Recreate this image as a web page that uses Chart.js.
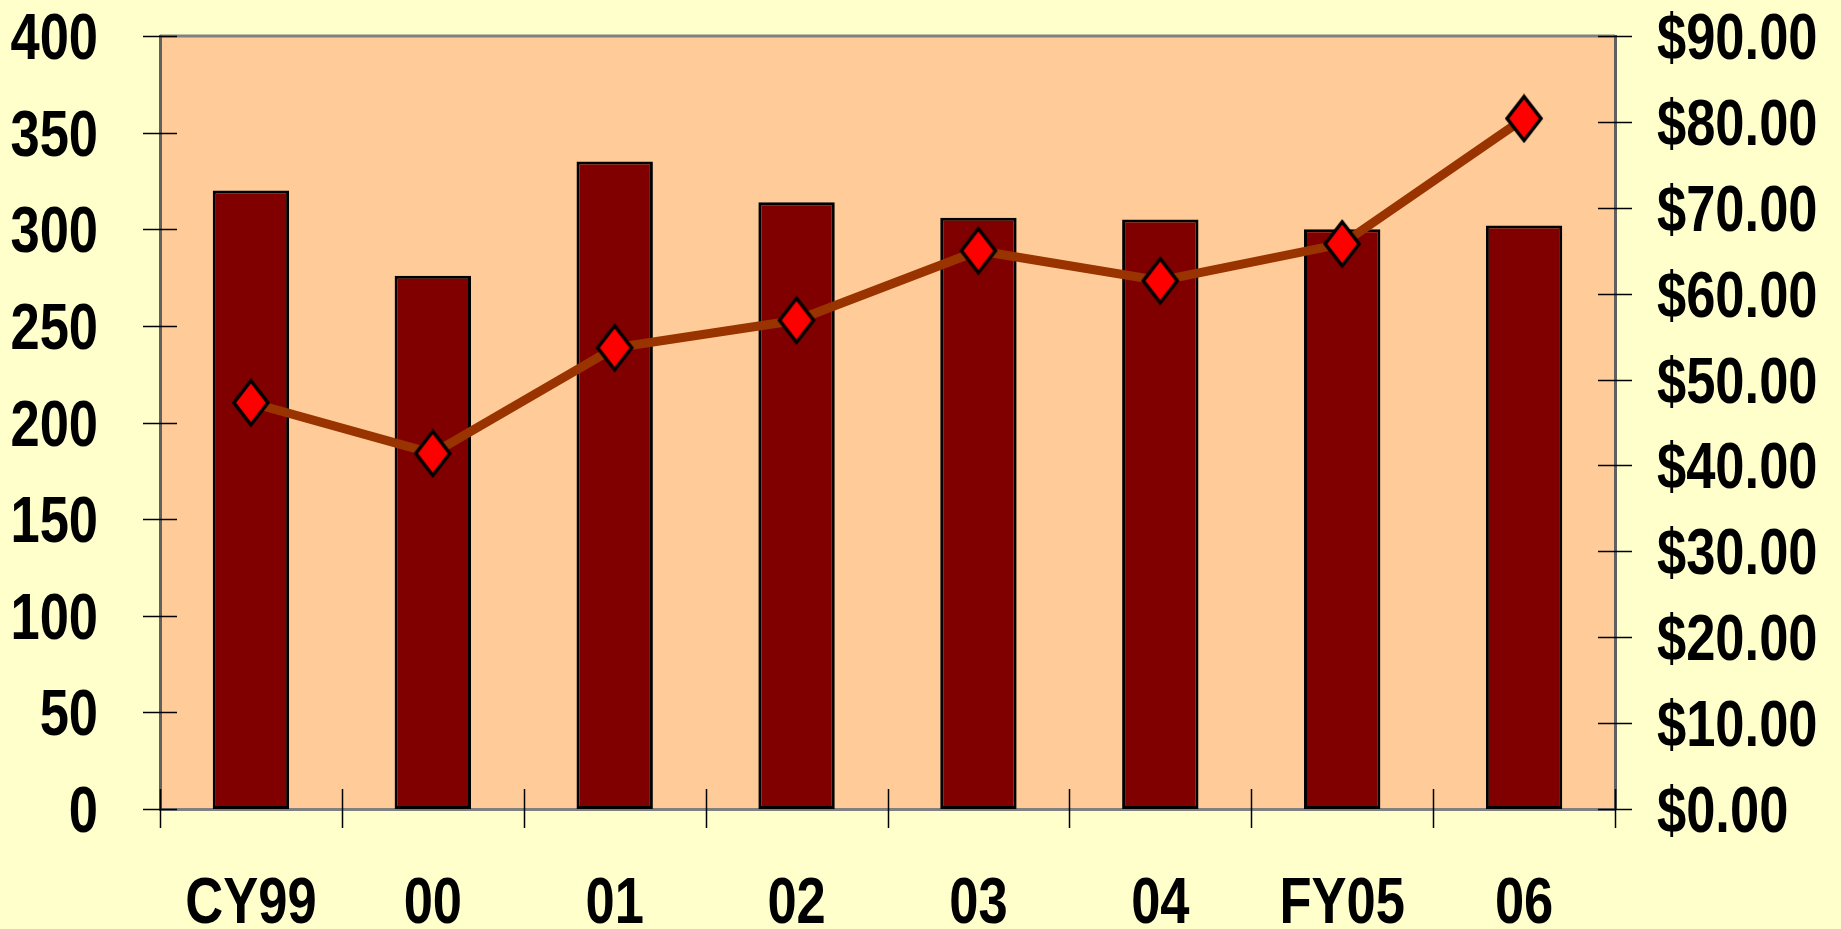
<!DOCTYPE html>
<html>
<head>
<meta charset="utf-8">
<script src="https://cdn.jsdelivr.net/npm/chart.js@4"></script>
<style>
  html, body { margin: 0; padding: 0; background: #FFFFCC; }
  #wrap { width: 1841px; height: 929px; }
</style>
</head>
<body>
<div id="wrap"><canvas id="chart" width="1841" height="929"></canvas></div>
<script>
const categories = ['CY99', '00', '01', '02', '03', '04', 'FY05', '06'];
const volumes = [320, 276, 335, 314, 306, 305, 300, 302];
const prices = [47.3, 41.4, 53.7, 56.9, 65.0, 61.5, 65.8, 80.4];

// no narrow font installed, so bold sans is squeezed horizontally
const FONT = "bold 64px 'Liberation Sans', Arial, sans-serif";
const SQUEEZE = 0.82;
const CAP_HALF = 23;

// diamond marker, a bit taller than wide
const diamond = document.createElement('canvas');
diamond.width = 42;
diamond.height = 50;
(() => {
  const c = diamond.getContext('2d');
  c.beginPath();
  c.moveTo(21, 3);
  c.lineTo(38, 25);
  c.lineTo(21, 47);
  c.lineTo(4, 25);
  c.closePath();
  c.fillStyle = '#FF0000';
  c.fill();
  c.lineWidth = 3.5;
  c.strokeStyle = '#000000';
  c.stroke();
})();

const plotFrame = {
  id: 'plotFrame',
  beforeDraw(chart) {
    const { ctx, chartArea: a } = chart;
    ctx.save();
    ctx.fillStyle = '#FFCC99';
    ctx.fillRect(a.left, a.top, a.right - a.left, a.bottom - a.top);
    ctx.strokeStyle = '#808080';
    ctx.lineWidth = 3;
    ctx.beginPath();
    ctx.moveTo(a.left, a.top);
    ctx.lineTo(a.right, a.top);
    ctx.stroke();
    ctx.restore();
  }
};

function squeezedText(ctx, text, x, y, align) {
  ctx.save();
  ctx.translate(x, y);
  ctx.scale(SQUEEZE, 1);
  ctx.textAlign = align;
  ctx.fillText(text, 0, 0);
  ctx.restore();
}

// crossing tick marks and the axis labels
const axisDecor = {
  id: 'axisDecor',
  afterDraw(chart) {
    const { ctx, chartArea: a, scales } = chart;
    const { x, y, y2 } = scales;
    ctx.save();
    ctx.strokeStyle = '#000';
    ctx.lineWidth = 1.5;
    ctx.beginPath();
    y.ticks.forEach(t => {
      const py = Math.round(y.getPixelForValue(t.value)) + 0.5;
      ctx.moveTo(a.left - 17, py);
      ctx.lineTo(a.left + 17, py);
    });
    y2.ticks.forEach(t => {
      const py = Math.round(y2.getPixelForValue(t.value)) + 0.5;
      ctx.moveTo(a.right - 17, py);
      ctx.lineTo(a.right + 17, py);
    });
    const half = (x.getPixelForValue(1) - x.getPixelForValue(0)) / 2;
    for (let i = 0; i <= categories.length; i++) {
      const px = Math.round(x.getPixelForValue(i) - half) + 0.5;
      ctx.moveTo(px, a.bottom - 20);
      ctx.lineTo(px, a.bottom + 19);
    }
    ctx.stroke();

    ctx.fillStyle = '#000';
    ctx.font = FONT;
    ctx.textBaseline = 'alphabetic';
    y.ticks.forEach(t => {
      squeezedText(ctx, String(t.value), a.left - 62, y.getPixelForValue(t.value) + CAP_HALF, 'right');
    });
    y2.ticks.forEach(t => {
      squeezedText(ctx, '$' + t.value.toFixed(2), a.right + 42, y2.getPixelForValue(t.value) + CAP_HALF, 'left');
    });
    categories.forEach((c, i) => {
      squeezedText(ctx, c, x.getPixelForValue(i), 923, 'center');
    });
    ctx.restore();
  }
};

new Chart(document.getElementById('chart'), {
  data: {
    labels: categories,
    datasets: [
      {
        type: 'line',
        data: prices,
        yAxisID: 'y2',
        order: 0,
        borderColor: '#993300',
        borderWidth: 9,
        pointStyle: diamond,
        pointRadius: 21,
        tension: 0
      },
      {
        type: 'bar',
        data: volumes,
        yAxisID: 'y',
        order: 1,
        backgroundColor: '#800000',
        borderColor: '#000000',
        borderWidth: 3,
        borderSkipped: false,
        categoryPercentage: 1,
        barPercentage: 0.42
      }
    ]
  },
  options: {
    responsive: false,
    animation: false,
    layout: { padding: { top: 36, left: 0, right: 0, bottom: 0 } },
    plugins: { legend: { display: false }, tooltip: { enabled: false } },
    scales: {
      x: {
        offset: true,
        grid: { display: false, drawTicks: false },
        border: { display: true, color: '#808080', width: 3 },
        ticks: { display: false },
        afterFit: s => { s.height = 120; }
      },
      y: {
        position: 'left',
        min: 0,
        max: 400,
        grid: { display: false, drawTicks: false },
        border: { display: true, color: '#606060', width: 3 },
        ticks: { display: false, stepSize: 50 },
        afterFit: s => { s.width = 160; }
      },
      y2: {
        position: 'right',
        min: 0,
        max: 90,
        grid: { display: false, drawTicks: false },
        border: { display: true, color: '#606060', width: 3 },
        ticks: { display: false, stepSize: 10 },
        afterFit: s => { s.width = 226; }
      }
    }
  },
  plugins: [plotFrame, axisDecor]
});
</script>
</body>
</html>
